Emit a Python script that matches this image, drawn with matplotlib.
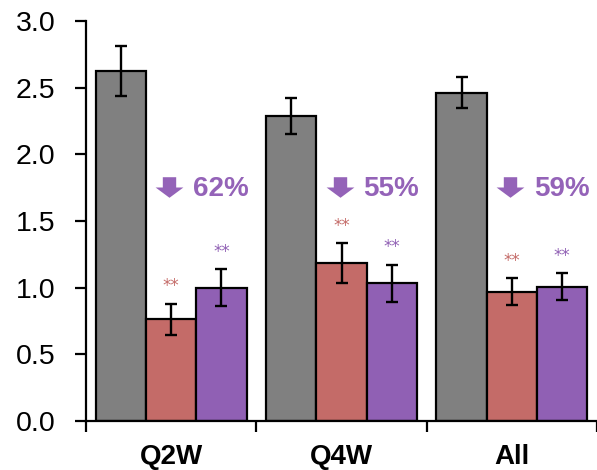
import matplotlib
matplotlib.use("Agg")
import matplotlib.pyplot as plt
from matplotlib.path import Path
import numpy as np

plt.rcParams['font.family'] = ['Liberation Sans', 'DejaVu Sans']

categories = ["Q2W", "Q4W", "All"]
placebo = [2.625, 2.29, 2.463]
placebo_err = [0.19, 0.136, 0.115]
dose_a = [0.763, 1.185, 0.970]
dose_a_err = [0.115, 0.148, 0.100]
dose_b = [1.000, 1.033, 1.008]
dose_b_err = [0.137, 0.140, 0.100]
reduction_labels = ["62%", "55%", "59%"]
significance = ["**", "**", "**"]

gray = "#808080"
red = "#C46B68"
purple = "#9060B4"
text_purple = "#9463B8"

fig = plt.figure(figsize=(5.97, 4.70), dpi=100)
ax = fig.add_axes([86 / 597, 49 / 470, 1 - 86 / 597, 400 / 470])

x = np.arange(len(categories))
w = 0.295
bar_kw = dict(width=w, edgecolor="black", linewidth=1.6, zorder=2)
err_kw = dict(elinewidth=1.7, capthick=1.7, capsize=4.2, ecolor="black")

ax.bar(x - w, placebo, color=gray, yerr=placebo_err, error_kw=err_kw, **bar_kw)
ax.bar(x, dose_a, color=red, yerr=dose_a_err, error_kw=err_kw, **bar_kw)
ax.bar(x + w, dose_b, color=purple, yerr=dose_b_err, error_kw=err_kw, **bar_kw)

# significance markers above the treated bars
for i in range(len(categories)):
    ax.text(x[i], dose_a[i] + dose_a_err[i] + 0.095, significance[i],
            color=red, fontsize=12, ha="center", va="baseline", family="DejaVu Sans")
    ax.text(x[i] + w, dose_b[i] + dose_b_err[i] + 0.095, significance[i],
            color=purple, fontsize=12, ha="center", va="baseline", family="DejaVu Sans")

# block down-arrow marker with reduction percentage
arrow = Path([(-6.5, 10), (6.5, 10), (6.5, 0), (13.5, 0), (0, -10),
              (-13.5, 0), (-6.5, 0), (-6.5, 10)],
             [Path.MOVETO] + [Path.LINETO] * 6 + [Path.CLOSEPOLY])
for i, lab in enumerate(reduction_labels):
    ax.plot(x[i] - 0.01, 1.757, marker=arrow, markersize=20, color=text_purple,
            markeredgewidth=0, linestyle="none", zorder=3)
    ax.text(x[i] + 0.128, 1.685, lab, color=text_purple, fontsize=20,
            fontweight="bold", ha="left", va="baseline")

ax.set_xlim(-0.5, 2.5)
ax.set_ylim(0, 3.0)
ax.set_yticks(np.arange(0, 3.01, 0.5))
ax.set_yticklabels([f"{v:.1f}" for v in np.arange(0, 3.01, 0.5)], fontsize=20.5)
ax.tick_params(axis="y", direction="out", length=8, width=1.6, pad=14)

ax.set_xticks([-0.5, 0.5, 1.5, 2.5])
ax.set_xticklabels([])
ax.set_xticks(x, minor=True)
ax.set_xticklabels(categories, minor=True, fontsize=20, fontweight="bold")
ax.tick_params(axis="x", which="major", direction="out", length=8, width=1.6)
ax.tick_params(axis="x", which="minor", length=0, pad=16.5)

for s in ["top", "right"]:
    ax.spines[s].set_visible(False)
for s in ["left", "bottom"]:
    ax.spines[s].set_linewidth(1.6)

fig.savefig("out.png", dpi=100)
